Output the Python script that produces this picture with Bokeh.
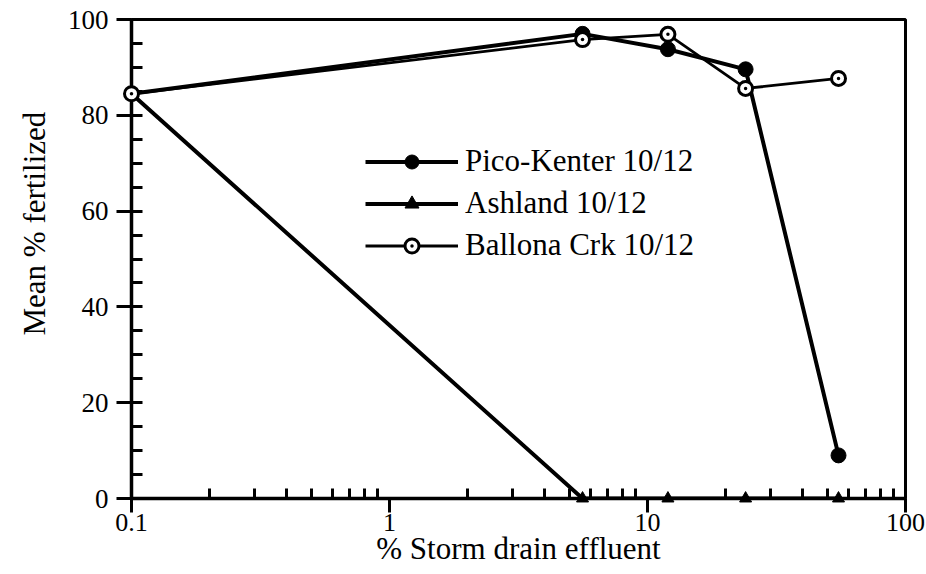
from bokeh.plotting import figure
from bokeh.models import Range1d, FixedTicker, Legend, LegendItem, Title
from bokeh.embed import file_html
from bokeh.resources import INLINE

# ---- data ----
conc = [0.1, 5.6, 12, 24, 55]
pico_kenter = [84.5, 97, 93.8, 89.6, 9]
ashland = [84.5, 0, 0, 0, 0]
ballona = [84.5, 95.8, 96.9, 85.6, 87.7]
series_names = ["Pico-Kenter 10/12", "Ashland 10/12", "Ballona Crk 10/12"]
x_ticks = [0.1, 1, 10, 100]
x_tick_labels = ["0.1", "1", "10", "100"]
y_ticks = [0, 20, 40, 60, 80, 100]
x_label = "% Storm drain effluent"
y_label = "Mean % fertilized"

FONT = "Liberation Serif"

p = figure(width=926, height=574, x_axis_type="log", output_backend="svg",
           toolbar_location=None,
           x_range=Range1d(0.1, 100), y_range=Range1d(0, 100),
           min_border_left=131, min_border_right=21,
           min_border_top=19, min_border_bottom=76)
p.grid.visible = False
p.background_fill_color = "white"
p.border_fill_color = "white"
p.outline_line_color = "black"
p.outline_line_width = 3

minor_x = [m * d for d in [0.1, 1, 10] for m in range(2, 10)]
p.xaxis.ticker = FixedTicker(ticks=x_ticks, minor_ticks=minor_x)
p.xaxis.major_label_overrides = {t: l for t, l in zip(x_ticks, x_tick_labels)}
p.yaxis.ticker = FixedTicker(ticks=y_ticks, minor_ticks=list(range(0, 101, 5)))

for ax in (p.xaxis[0], p.yaxis[0]):
    ax.axis_line_width = 3.5
    ax.axis_line_color = "black"
    ax.major_tick_line_width = 3
    ax.minor_tick_line_width = 3
    ax.major_tick_in = 0
    ax.minor_tick_out = 0
    ax.major_label_text_font = FONT
    ax.major_label_text_color = "black"
    ax.axis_label_text_font = FONT
    ax.axis_label_text_font_size = "31px"
    ax.axis_label_text_font_style = "normal"
    ax.axis_label_text_color = "black"

p.xaxis.major_label_text_font_size = "26px"
p.yaxis.major_label_text_font_size = "27px"
p.xaxis.major_tick_out = 14
p.xaxis.minor_tick_in = 10
p.yaxis.major_tick_out = 15
p.yaxis.minor_tick_in = 11

p.xaxis.axis_label = x_label
p.xaxis.major_label_standoff = 1
p.xaxis.axis_label_standoff = -3
p.yaxis.major_label_standoff = 8

# y-axis title (sits a little above the frame centre in the reference)
ytitle = Title(text=y_label, align="left", offset=163, standoff=26,
               text_font=FONT, text_font_size="31px",
               text_font_style="normal", text_color="black")
p.add_layout(ytitle, "left")

# Pico-Kenter
r1l = p.line(conc, pico_kenter, line_color="black", line_width=4)
r1m = p.scatter(conc[1:], pico_kenter[1:], marker="circle", size=15,
                fill_color="black", line_color="black")
# Ashland
r2l = p.line(conc, ashland, line_color="black", line_width=4)
r2m = p.scatter(conc[1:], ashland[1:], marker="triangle", size=12,
                fill_color="black", line_color="black")
# Ballona
r3l = p.line(conc, ballona, line_color="black", line_width=2.8)
r3m = p.scatter(conc, ballona, marker="circle_dot", size=14,
                fill_color="white", line_color="black", line_width=3)

for r in (r1m, r2m, r3m):
    r.level = "overlay"

legend = Legend(items=[
    LegendItem(label=series_names[0], renderers=[r1l, r1m]),
    LegendItem(label=series_names[1], renderers=[r2l, r2m]),
    LegendItem(label=series_names[2], renderers=[r3l, r3m]),
], location=(234, 235))
legend.glyph_width = 93
legend.glyph_height = 35
legend.label_height = 35
legend.spacing = 6
legend.padding = 0
legend.margin = 0
legend.label_standoff = 7
legend.border_line_color = None
legend.background_fill_alpha = 0
legend.label_text_font = FONT
legend.label_text_font_size = "31px"
legend.label_text_color = "black"
legend.label_text_baseline = "middle"
p.add_layout(legend)

open("out.html", "w").write(file_html(p, INLINE))
